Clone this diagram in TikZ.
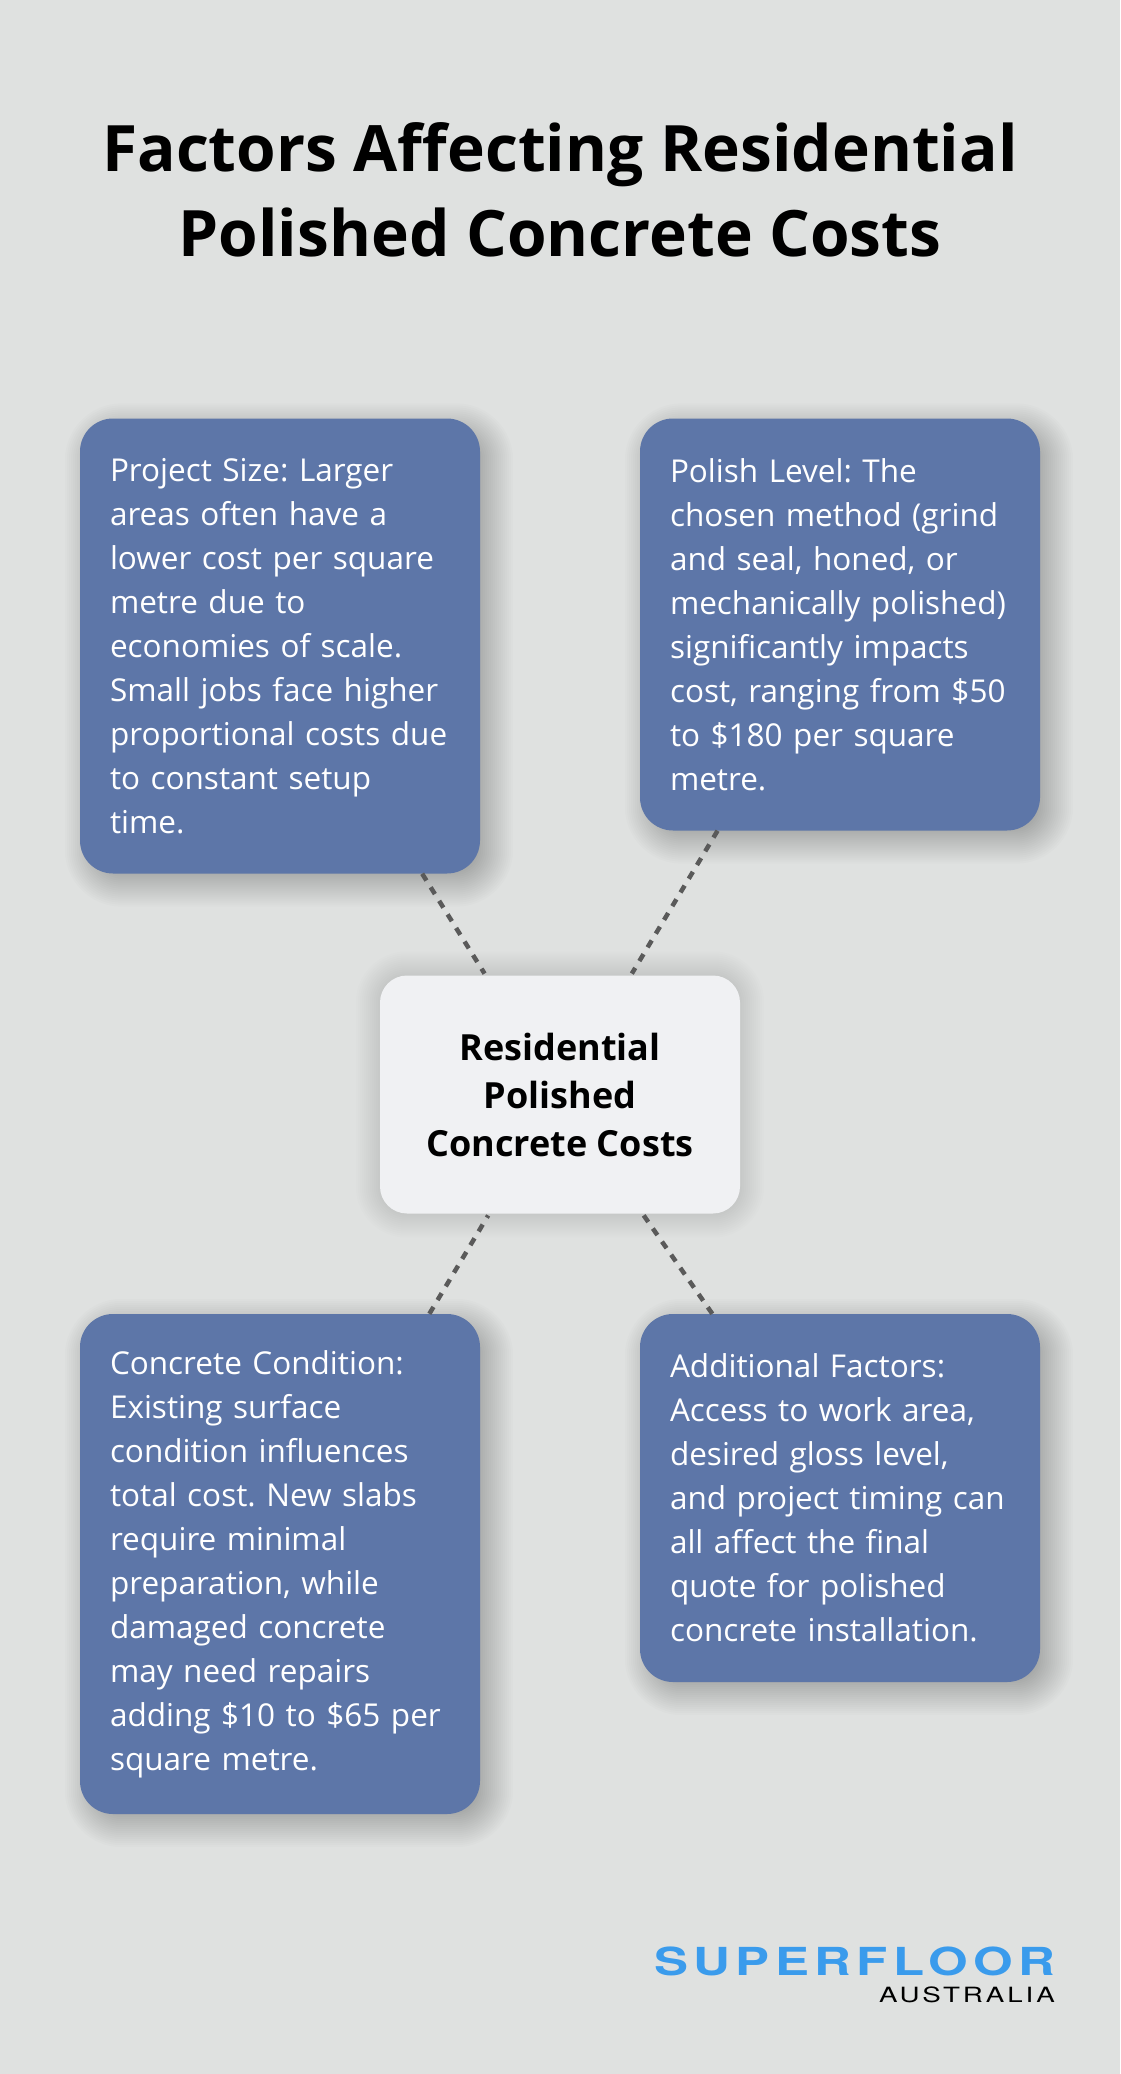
\documentclass[tikz,border=0pt]{standalone}
\usepackage{fontspec}
\setmainfont{Open Sans}
\newfontfamily\logofont[FakeStretch=1.32,LetterSpace=14]{TeX Gyre Heros}
\usetikzlibrary{backgrounds,calc}
\definecolor{page color}{HTML}{DFE1E0}
\definecolor{factor color}{HTML}{5D76A8}
\definecolor{hub color}{HTML}{F0F1F3}
\definecolor{link color}{HTML}{5A5A5A}
\definecolor{logo color}{HTML}{3A9BEC}
\tikzset{
    x={1pt},
    y={-1pt},
    page background/.style={
        fill=page color,
    },
    heading/.style={
        font={\fontsize{64}{85}\selectfont\bfseries},
        align=center,
        text=black,
    },
    factor/.style={
        fill=factor color,
        rounded corners={33pt},
        text=white,
        font={\fontsize{31.5}{44}\selectfont\frenchspacing},
        align=left,
        text width={340},
        minimum width={400},
        inner xsep=0pt,
        inner ysep=0pt,
    },
    hub/.style={
        fill=hub color,
        rounded corners={27pt},
        text=black,
        font={\fontsize{36}{48}\selectfont\bfseries},
        align=center,
        minimum width={360},
        minimum height={238},
        inner sep=0pt,
    },
    link/.style={
        draw=link color,
        line width={4.5pt},
        dash pattern=on 8pt off 8pt,
        shorten >=2pt,
    },
    soft shadow/.style={
        fill=black,
        fill opacity={#1},
    },
}
% node, x offset, y offset, corner, opacity of one step
\newcommand{\softshadow}[5]{
    \foreach \s in {-24,-22,...,24} {
        \pgfmathsetmacro{\cr}{#4+\s}
        \path[soft shadow={#5}, rounded corners={\cr pt}] ($(#1.north west)+(#2-\s,#3-\s)$) rectangle ($(#1.south east)+(#2+\s,#3+\s)$);
    }
}

\begin{document}
\begin{tikzpicture}
% title
\node[heading] (title) at (560,190) {Factors Affecting Residential\\Polished Concrete Costs};
% boxes
\node[hub] (costs) at (560,1094.5) {Residential\\Polished\\Concrete Costs};
\node[factor, minimum height={455}] (size) at (280,646) {Project Size: Larger\\areas often have a\\lower cost per square\\metre due to\\economies of scale.\\Small jobs face higher\\proportional costs due\\to constant setup\\time.};
\node[factor, minimum height={412}] (polish) at (840,624.5) {Polish Level: The\\chosen method (grind\\and seal, honed, or\\mechanically polished)\\significantly impacts\\cost, ranging from \$50\\to \$180 per square\\metre.};
\node[factor, minimum height={500}] (condition) at (280,1564) {Concrete Condition:\\Existing surface\\condition influences\\total cost. New slabs\\require minimal\\preparation, while\\damaged concrete\\may need repairs\\adding \$10 to \$65 per\\square metre.};
\node[factor, minimum height={368}] (additional) at (840,1498) {Additional Factors:\\Access to work area,\\desired gloss level,\\and project timing can\\all affect the final\\quote for polished\\concrete installation.};
% links
\draw[link] (size) -- (costs);
\draw[link] (polish) -- (costs);
\draw[link] (condition) -- (costs);
\draw[link] (additional) -- (costs);
% logo
\node[text=logo color, font={\fontsize{38.6}{39}\logofont\bfseries}, anchor=base east, inner sep=0pt] (super) at (1055.5,1975) {SUPERFLOOR};
\node[text=black, font={\fontsize{21}{21}\logofont}, anchor=base east, inner sep=0pt] (australia) at (1055,2002) {AUSTRALIA};
% background
\begin{scope}[on background layer]
\path[page background] (0,0) rectangle (1120,2074);
\softshadow{size}{9}{9}{33}{0.013}
\softshadow{polish}{9}{9}{33}{0.013}
\softshadow{condition}{9}{9}{33}{0.013}
\softshadow{additional}{9}{9}{33}{0.013}
\softshadow{costs}{0}{0}{27}{0.007}
\end{scope}
\useasboundingbox (0,0) rectangle (1120,2074);
\end{tikzpicture}
\end{document}
